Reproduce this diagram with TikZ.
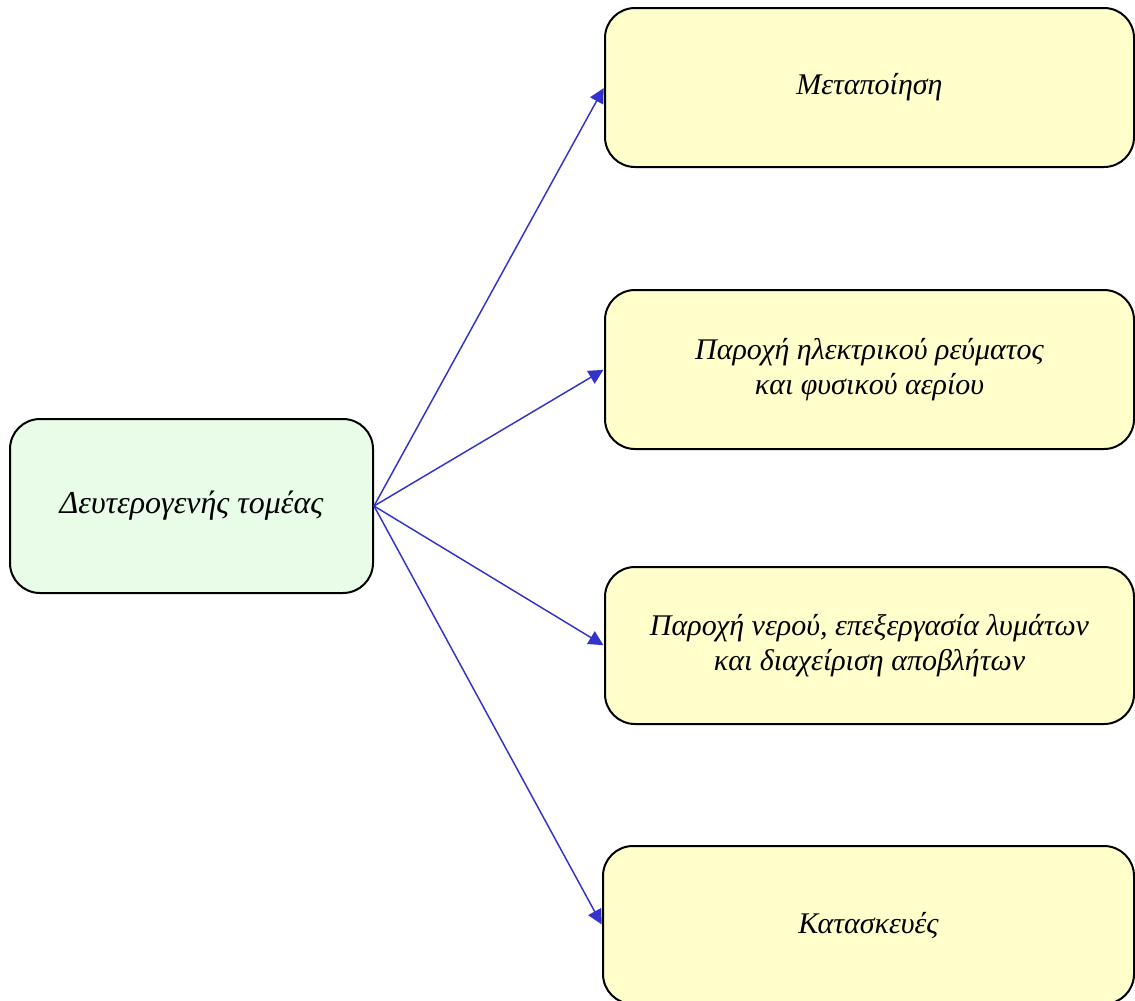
\documentclass[tikz,border=0pt]{standalone}
\usepackage{fontspec}
\setmainfont{Liberation Serif}
\usetikzlibrary{arrows.meta}
\definecolor{boxyellow}{HTML}{FFFFCC}
\definecolor{boxgreen}{HTML}{E8FCE8}
\definecolor{arrowblue}{HTML}{3333CC}
\tikzset{
  box/.style={draw=black, line width=1.5pt, rounded corners=22.5pt, inner sep=0pt,
    align=center, font=\fontsize{22.5}{26}\selectfont\itshape},
  ybox/.style={box, fill=boxyellow, minimum width=396.75pt, minimum height=119.25pt},
  link/.style={draw=arrowblue, line width=1.1pt, -{Triangle[length=11pt,width=11pt]}, shorten >=0.5pt}
}
\begin{document}
\begin{tikzpicture}[x=0.75pt,y=-0.75pt]
\clip (0,0) rectangle (1135,1000);
\node[box, fill=boxgreen, minimum width=272.25pt, minimum height=130.5pt, font=\fontsize{24}{26}\selectfont\itshape] (src) at (191.5,506) {Δευτερογενής τομέας};
\node[ybox] (m1) at (869.5,87.5) {Μεταποίηση};
\node[ybox] (m2) at (869.5,369.5) {Παροχή ηλεκτρικού ρεύματος\\και φυσικού αερίου};
\node[ybox, minimum height=117.75pt] (m3) at (869.5,645.5) {Παροχή νερού, επεξεργασία λυμάτων\\και διαχείριση αποβλήτων};
\node[ybox, minimum width=398.25pt, minimum height=118.5pt] (m4) at (868.5,925) {Κατασκευές};
\draw[link] (src.east) -- (m1.west);
\draw[link] (src.east) -- (m2.west);
\draw[link] (src.east) -- (m3.west);
\draw[link] (src.east) -- (m4.west);
\end{tikzpicture}
\end{document}
